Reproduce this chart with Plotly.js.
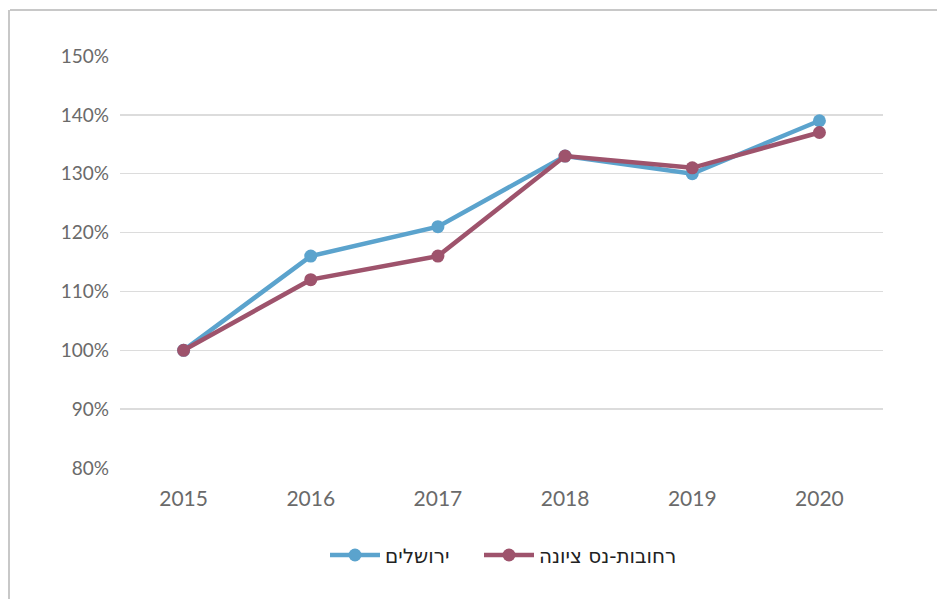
<!DOCTYPE html>
<html>
<head>
<meta charset="utf-8">
<script src="https://cdn.plot.ly/plotly-3.0.1.min.js"></script>
<style>html,body{margin:0;padding:0;background:#fff;}#chart{width:937px;height:599px;}</style>
</head>
<body>
<div id="chart"></div>
<script>
const years = ['2015', '2016', '2017', '2018', '2019', '2020'];
const jerusalem = [100, 116, 121, 133, 130, 139];
const rehovot = [100, 112, 116, 133, 131, 137];
const seriesNames = ['ירושלים', 'רחובות-נס ציונה'];
const yTicks = [80, 90, 100, 110, 120, 130, 140, 150];
const yTickLabels = yTicks.map(v => v + '%');

const W = 937, H = 599, L = 120, R = 54, T = 56, B = 131;
const pw = W - L - R, ph = H - T - B;
const px = x => (x - L) / pw;
const py = y => (H - B - y) / ph;

const traces = [
  {x: years, y: jerusalem, name: seriesNames[0], type: 'scatter', mode: 'lines+markers',
   line: {color: '#5ba3cd', width: 4.5}, marker: {color: '#5ba3cd', size: 13}, legend: 'legend'},
  {x: years, y: rehovot, name: seriesNames[1], type: 'scatter', mode: 'lines+markers',
   line: {color: '#9e536c', width: 4.5}, marker: {color: '#9e536c', size: 13}, legend: 'legend2'}
];

const legendFont = {family: '"DejaVu Sans", "Noto Sans", sans-serif', size: 20, color: '#222'};

const layout = {
  width: W, height: H,
  margin: {l: L, r: R, t: T, b: B},
  paper_bgcolor: '#fff', plot_bgcolor: '#fff',
  font: {family: 'Lato, "Open Sans", sans-serif', color: '#6a6a6a'},
  showlegend: true,
  legend: {orientation: 'h', x: px(325), xanchor: 'left', y: py(555), yanchor: 'middle',
    font: legendFont, itemwidth: 50},
  legend2: {orientation: 'h', x: px(479), xanchor: 'left', y: py(555), yanchor: 'middle',
    font: legendFont, itemwidth: 50},
  xaxis: {type: 'category', range: [-0.5, 5.5], showgrid: false, zeroline: false,
    showline: false, ticks: '', tickfont: {size: 21, color: '#6a6a6a'}, ticklabelstandoff: 16},
  yaxis: {range: [80, 150], tickvals: yTicks, ticktext: yTickLabels, showgrid: true,
    gridcolor: '#dcdcdc', gridwidth: 1.5, zeroline: false, showline: false, ticks: '',
    tickfont: {size: 19, color: '#6a6a6a'}, ticklabelstandoff: 10},
  shapes: [
    {type: 'line', xref: 'paper', yref: 'paper', x0: px(10), x1: px(937), y0: py(10), y1: py(10),
     line: {color: '#c8c8c8', width: 2}},
    {type: 'line', xref: 'paper', yref: 'paper', x0: px(9), x1: px(9), y0: py(10), y1: py(599),
     line: {color: '#c8c8c8', width: 2}}
  ]
};

Plotly.newPlot('chart', traces, layout, {displayModeBar: false, staticPlot: true});
</script>
</body>
</html>
